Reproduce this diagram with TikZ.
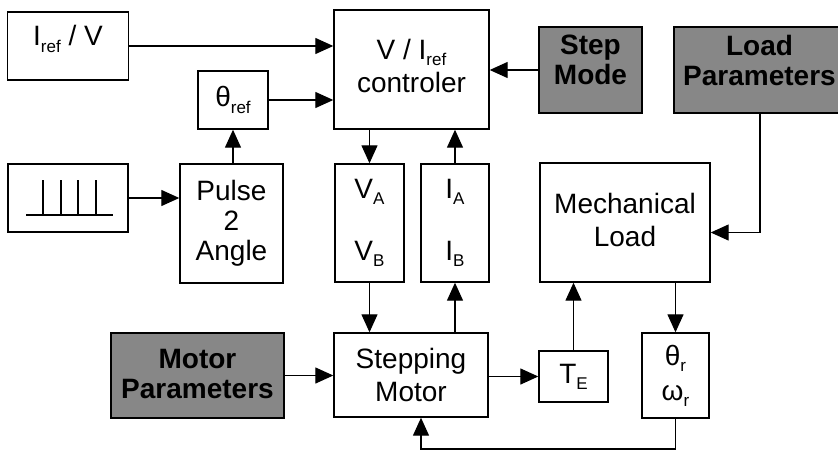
\documentclass[tikz,border=0pt]{standalone}
\usepackage{fontspec}
\setmainfont{Liberation Sans}
\usetikzlibrary{arrows.meta}
\newcommand{\sbs}[1]{\raisebox{-0.22em}{\fontsize{17}{17}\selectfont #1}}
\begin{document}
\begin{tikzpicture}[x=1pt,y=-1pt,
  box/.style={draw,line width=1.4pt,inner sep=0pt,align=center,font=\fontsize{28}{33}\selectfont},
  gbox/.style={box,fill=black!47,font=\bfseries\fontsize{28}{30}\selectfont},
  txt/.style={inner sep=0pt,align=center,font=\fontsize{28}{33}\selectfont},
  gtxt/.style={txt,font=\bfseries\fontsize{28}{30}\selectfont},
  arr/.style={line width=1.3pt,-{Triangle[length=18pt,width=16pt]}}]
\useasboundingbox (0,0) rectangle (838,451);
\node[box,minimum width=121,minimum height=68,label={[txt,yshift=7pt]center:I\sbs{ref} / V}] (iref) at (68,46) {};
\node[box,minimum width=120,minimum height=68] (pulse) at (68,198) {};
\node[box,minimum width=103,minimum height=119,font=\fontsize{28}{30}\selectfont] (p2a) at (231.5,223.5) {Pulse\\2\\Angle};
\node[box,minimum width=70,minimum height=58] (thref) at (233,100) {θ\sbs{ref}};
\node[box,minimum width=155,minimum height=119,label={[txt,yshift=4pt]center:V / I\sbs{ref}\\controler}] (ctrl) at (411.5,69.5) {};
\node[gbox,minimum width=103,minimum height=86,label={[gtxt,yshift=10pt]center:Step\\Mode}] (smode) at (590.5,70) {};
\node[gbox,minimum width=171,minimum height=86,label={[gtxt,yshift=10pt]center:Load\\Parameters}] (lpar) at (759.5,70) {};
\node[box,minimum width=170,minimum height=119,label={[txt,yshift=3pt]center:Mechanical\\Load}] (ml) at (625,222.5) {};
\node[box,minimum width=69,minimum height=118,font=\fontsize{28}{62}\selectfont] (vab) at (369.5,223) {V\sbs{A}\\V\sbs{B}};
\node[box,minimum width=68,minimum height=118,font=\fontsize{28}{62}\selectfont] (iab) at (455,223) {I\sbs{A}\\I\sbs{B}};
\node[box,minimum width=154,minimum height=84] (stm) at (411,375) {Stepping\\Motor};
\node[gbox,minimum width=173,minimum height=85,label={[gtxt,yshift=2pt]center:Motor\\Parameters}] (mpar) at (197.5,375.5) {};
\node[box,minimum width=69,minimum height=51] (te) at (573.5,376.5) {T\sbs{E}};
\node[box,minimum width=67,minimum height=85,font=\fontsize{28}{35}\selectfont] (thr) at (675.5,375.5) {θ\sbs{r}\\ω\sbs{r}};
% pulse symbol
\draw[line width=1.4pt] (26,215) -- (113,215);
\foreach \px in {43,61,78,96} \draw[line width=1.4pt] (\px,180) -- (\px,215);
% coordinates
\coordinate (lpx) at (760,113);
\coordinate (fbl) at (421,449);
% connectors
\draw[arr] (iref.east) -- (iref.east -| ctrl.west);
\draw[arr] (thref.east) -- (thref.east -| ctrl.west);
\draw[arr] (smode.west) -- (smode.west -| ctrl.east);
\draw[arr] (pulse.east) -- (pulse.east -| p2a.west);
\draw[arr] (p2a.north -| thref.south) -- (thref.south);
\draw[arr] (ctrl.south -| vab.north) -- (vab.north);
\draw[arr] (iab.north) -- (iab.north |- ctrl.south);
\draw[arr] (vab.south) -- (vab.south |- stm.north);
\draw[arr] (stm.north -| iab.south) -- (iab.south);
\draw[arr] (mpar.east) -- (mpar.east -| stm.west);
\draw[arr] (stm.east |- te.west) -- (te.west);
\draw[arr] (te.north) -- (te.north |- ml.south);
\draw[arr] (ml.south -| thr.north) -- (thr.north);
\draw[arr] (lpx) |- ([yshift=-10pt]ml.east);
\draw[arr] (thr.south) |- (fbl) -- (fbl |- stm.south);
\end{tikzpicture}
\end{document}
